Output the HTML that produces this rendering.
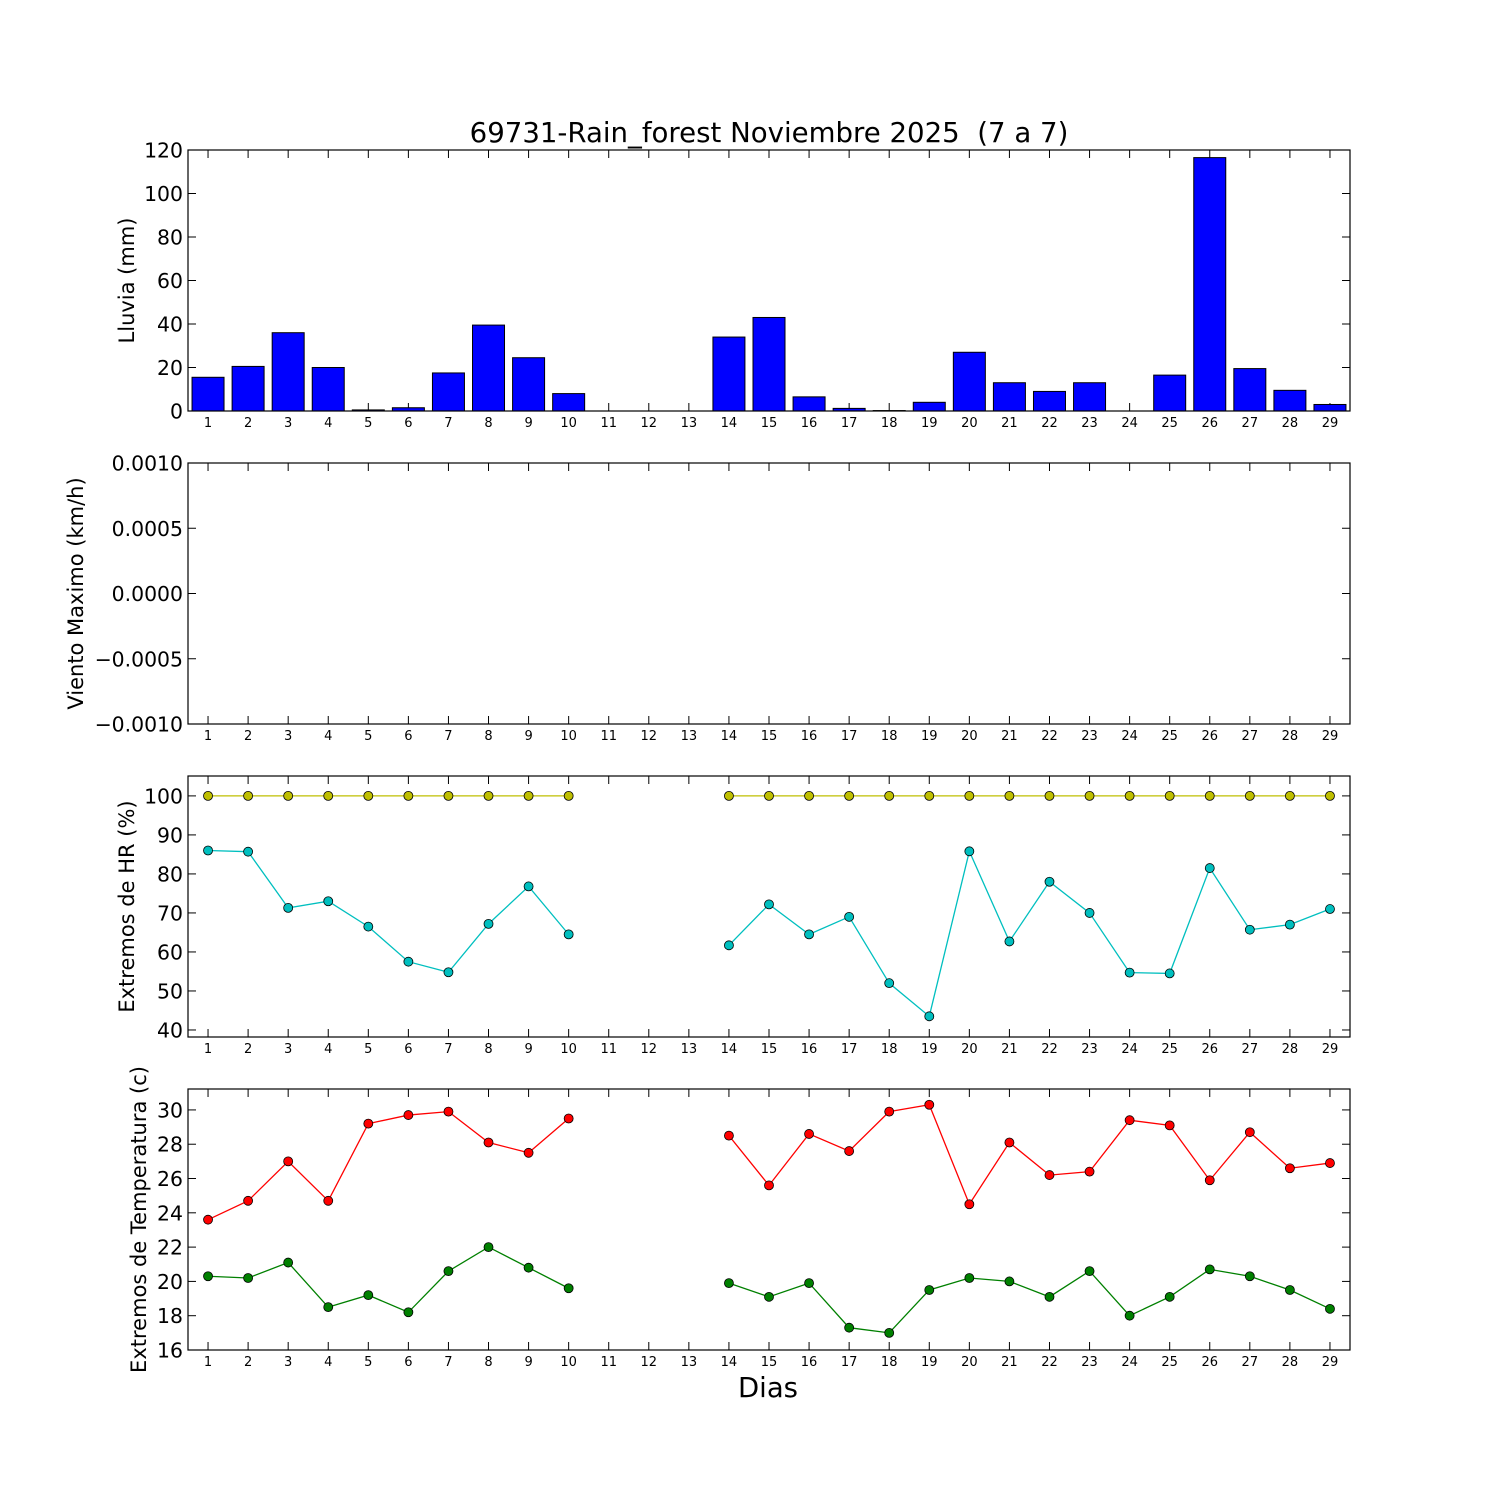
<!DOCTYPE html>
<html><head><meta charset="utf-8"><style>
html,body{margin:0;padding:0;background:#fff;}
svg{display:block;font-family:"DejaVu Sans","Liberation Sans",sans-serif;}
</style></head><body>
<svg id="chart" width="1500" height="1500" viewBox="0 0 1500 1500" xmlns="http://www.w3.org/2000/svg">
<rect width="1500" height="1500" fill="#fff"/>
<text x="769" y="142" font-size="27.6" text-anchor="middle" style="white-space:pre">69731-Rain_forest Noviembre 2025  (7 a 7)</text>
<text x="768" y="1397" font-size="27.5" text-anchor="middle">Dias</text>
</svg>
<script>
const days = [1,2,3,4,5,6,7,8,9,10,11,12,13,14,15,16,17,18,19,20,21,22,23,24,25,26,27,28,29];
const rain = [15.5,20.5,36,20,0.5,1.5,17.5,39.5,24.5,8,0,0,0,34,43,6.5,1.2,0.2,4,27,13,9,13,0,16.5,116.5,19.5,9.5,3];
const hrMax = [100,100,100,100,100,100,100,100,100,100,null,null,null,100,100,100,100,100,100,100,100,100,100,100,100,100,100,100,100];
const hrMin = [86,85.7,71.3,73,66.5,57.5,54.8,67.2,76.8,64.5,null,null,null,61.7,72.2,64.5,69,52,43.5,85.8,62.7,78,70,54.7,54.5,81.5,65.7,67,71];
const tMax = [23.6,24.7,27,24.7,29.2,29.7,29.9,28.1,27.5,29.5,null,null,null,28.5,25.6,28.6,27.6,29.9,30.3,24.5,28.1,26.2,26.4,29.4,29.1,25.9,28.7,26.6,26.9];
const tMin = [20.3,20.2,21.1,18.5,19.2,18.2,20.6,22,20.8,19.6,null,null,null,19.9,19.1,19.9,17.3,17,19.5,20.2,20,19.1,20.6,18,19.1,20.7,20.3,19.5,18.4];
const rainTicks = [0,20,40,60,80,100,120];
const windTicks = [-0.001,-0.0005,0,0.0005,0.001];
const windTickLabels = ["\u22120.0010","\u22120.0005","0.0000","0.0005","0.0010"];
const hrTicks = [40,50,60,70,80,90,100];
const tTicks = [16,18,20,22,24,26,28,30];

const NS="http://www.w3.org/2000/svg";
const svg=document.getElementById('chart');
const X0=188,X1=1350;
function xs(d){return X0+(d-0.5)/29*(X1-X0);}
function el(tag,attrs,parent){const e=document.createElementNS(NS,tag);for(const k in attrs)e.setAttribute(k,attrs[k]);(parent||svg).appendChild(e);return e;}

function panel(name,top,bottom,ymin,ymax,ticks,labels,ylabel,labelX){
  const g=el('g',{});
  
  
  const ys=v=>bottom-(v-ymin)/(ymax-ymin)*(bottom-top);
  ticks.forEach((t,i)=>{
    const y=ys(t);
    el('line',{x1:X0,x2:X0+8,y1:y,y2:y,stroke:'#000'},g);
    el('line',{x1:X1-8,x2:X1,y1:y,y2:y,stroke:'#000'},g);
    const tx=el('text',{x:X0-5,y:y+7.5,'font-size':20.4,'text-anchor':'end'},g);
    tx.textContent=labels?labels[i]:String(t);
    
    
  });
  days.forEach(d=>{
    const x=xs(d);
    el('line',{x1:x,x2:x,y1:bottom,y2:bottom-8,stroke:'#000'},g);
    el('line',{x1:x,x2:x,y1:top,y2:top+8,stroke:'#000'},g);
    const tx=el('text',{x:x,y:bottom+16,'font-size':13,'text-anchor':'middle'},g);
    tx.textContent=String(d);
    
    
  });
  const yl=el('text',{x:0,y:0,'font-size':21,'text-anchor':'middle',transform:`translate(${labelX},${(top+bottom)/2}) rotate(-90)`},g);
  yl.textContent=ylabel;
  
  
  return {g,ys,top,bottom};
}
function frame(p){el('rect',{x:X0,y:p.top,width:X1-X0,height:p.bottom-p.top,fill:'none',stroke:'#000','stroke-width':1.2},p.g);}
function series(p,vals,color,name){
  let seg=[];
  const segs=[];
  vals.forEach((v,i)=>{if(v===null){if(seg.length)segs.push(seg);seg=[];}else seg.push([xs(days[i]),p.ys(v)]);});
  if(seg.length)segs.push(seg);
  segs.forEach(s=>{
    const l=el('polyline',{points:s.map(q=>q.join(',')).join(' '),fill:'none',stroke:color,'stroke-width':1.3},p.g);
    
    
  });
  vals.forEach((v,i)=>{
    if(v===null)return;
    const c=el('circle',{cx:xs(days[i]),cy:p.ys(v),r:4.5,fill:color,stroke:'#000','stroke-width':0.8},p.g);
    
    
  });
}

const p1=panel('rain',150,411,0,120,rainTicks,null,'Lluvia (mm)',134);
rain.forEach((v,i)=>{
  const x=xs(days[i])-16, y=p1.ys(v);
  const b=el('rect',{x:x,y:y,width:32,height:p1.bottom-y,fill:'#0000ff',stroke:'#000','stroke-width':1},p1.g);
  
  
});
frame(p1);
const p2=panel('wind',463,724,-0.001,0.001,windTicks,windTickLabels,'Viento Maximo (km/h)',83);
frame(p2);
const p3=panel('hr',776,1037,38.2,105.1,hrTicks,null,'Extremos de HR (%)',134);
series(p3,hrMax,'#bfbf00','hr-max');
series(p3,hrMin,'#00bfbf','hr-min');
frame(p3);
const p4=panel('temp',1089,1350,16,31.22,tTicks,null,'Extremos de Temperatura (c)',146);
series(p4,tMax,'#ff0000','temp-max');
series(p4,tMin,'#008000','temp-min');
frame(p4);
</script>
</body></html>
